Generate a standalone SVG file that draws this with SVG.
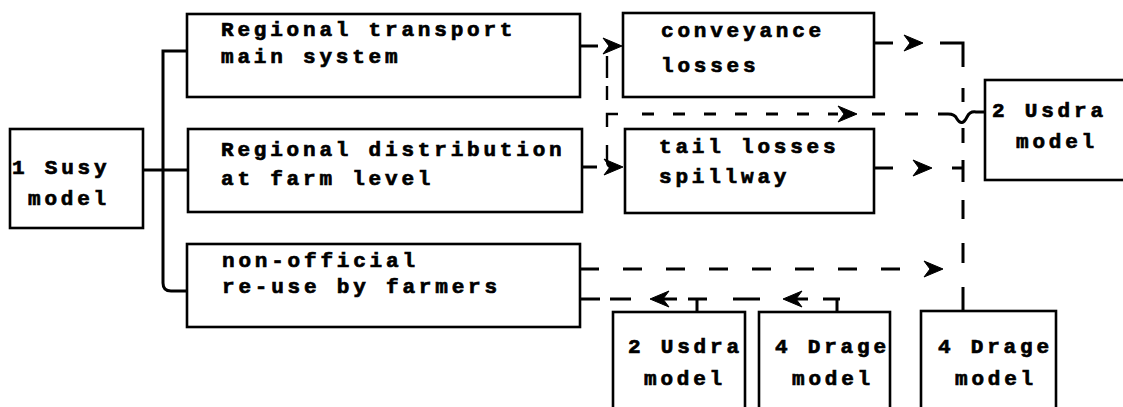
<svg xmlns="http://www.w3.org/2000/svg" width="1123" height="407" viewBox="0 0 1123 407">
  <style>
    .box { fill: #fff; stroke: #000; stroke-width: 2.6; }
    .wire { fill: none; stroke: #000; stroke-width: 3; stroke-linecap: butt; }
    .thin { stroke-width: 2.4; }
    .head { fill: #000; stroke: #000; stroke-width: 1; stroke-linejoin: round; }
    text { font-family: "Liberation Mono", "Courier New", monospace; font-weight: bold; font-size: 21px; letter-spacing: 3.8px; fill: #000; stroke: #000; stroke-width: 0.7px; }
  </style>
  <defs>
    <!-- chevron heads, tip at the origin -->
    <polygon id="headR" class="head" points="0,0 -19,-8 -13,0 -19,8"/>
    <polygon id="headL" class="head" points="0,0 19,-8 13,0 19,8"/>
  </defs>
  <rect width="1123" height="407" fill="#fff"/>

  <g id="connectors">
    <!-- bus from the Susy model to the three supply branches -->
    <path class="wire" d="M187,51 H163 V283 Q163,291 171,291 H187"/>
    <path class="wire" d="M143,170 H188"/>

    <!-- transport main system -> conveyance losses -->
    <path class="wire" d="M580,46 H598"/>
    <use href="#headR" x="622" y="46"/>
    <!-- distribution -> tail losses -->
    <path class="wire" d="M582,167 H597"/>
    <use href="#headR" x="623" y="167"/>

    <!-- dashed drop between the two loss branches -->
    <path class="wire thin" d="M607,56 V78 M607,86 V100 M607,127 V114 H618 M607,145 V160 Q607,167 611,167"/>
    <!-- dashed line towards the Usdra model with a hop over the riser -->
    <path class="wire" d="M642,114 H838" stroke-dasharray="12 19"/>
    <use href="#headR" x="857" y="114"/>
    <path class="wire" d="M872,114 H948" stroke-dasharray="13 20"/>
    <path class="wire" d="M948,114 Q955,114 957,119 Q962,127 967,117 Q970,111 976,112 H986"/>

    <!-- conveyance losses -> riser -->
    <path class="wire" d="M874,43 H893"/>
    <use href="#headR" x="923" y="43"/>
    <path class="wire" d="M940,43 H963 V67"/>
    <!-- tail losses -> riser -->
    <path class="wire" d="M874,168 H893"/>
    <use href="#headR" x="932" y="168"/>
    <path class="wire" d="M952,168 H963"/>
    <!-- riser down to the Drage model -->
    <path class="wire" d="M963,88 V102 M963,128 V143 M963,160 V182 M963,200 V219 M963,243 V263 M963,287 V311"/>

    <!-- non-official re-use -> riser -->
    <path class="wire" d="M580,269 H900" stroke-dasharray="19 24"/>
    <use href="#headR" x="943" y="269"/>

    <!-- return flows from the lower models -->
    <path class="wire" d="M580,299 H600 M610,299 H631"/>
    <path class="wire" d="M662,299 H677"/>
    <use href="#headL" x="650" y="299"/>
    <path class="wire" d="M688,299 H707 M697,299 V312"/>
    <path class="wire" d="M733,299 H760"/>
    <path class="wire" d="M795,299 H808"/>
    <use href="#headL" x="783" y="299"/>
    <path class="wire" d="M823,299 H840 M837,299 V312"/>
  </g>

  <g id="susy">
    <rect class="box" x="10" y="129" width="133" height="99"/>
    <text x="12" y="174">1 Susy</text>
    <text x="28" y="205">model</text>
  </g>

  <g id="transport">
    <rect class="box" x="187" y="14" width="393" height="83"/>
    <text x="221" y="36">Regional transport</text>
    <text x="221" y="63">main system</text>
  </g>

  <g id="distribution">
    <rect class="box" x="188" y="129" width="394" height="83"/>
    <text x="221" y="156">Regional distribution</text>
    <text x="221" y="185">at farm level</text>
  </g>

  <g id="reuse">
    <rect class="box" x="187" y="244" width="393" height="83"/>
    <text x="222" y="267">non-official</text>
    <text x="222" y="293">re-use by farmers</text>
  </g>

  <g id="conveyance">
    <rect class="box" x="623" y="13" width="251" height="84"/>
    <text x="661" y="37">conveyance</text>
    <text x="661" y="72">losses</text>
  </g>

  <g id="tail">
    <rect class="box" x="625" y="129" width="249" height="84"/>
    <text x="659" y="153">tail losses</text>
    <text x="659" y="183">spillway</text>
  </g>

  <g id="usdra-top">
    <rect class="box" x="985" y="80" width="160" height="100"/>
    <text x="992" y="117">2 Usdra</text>
    <text x="1016" y="148">model</text>
  </g>

  <g id="usdra-bottom">
    <rect class="box" x="613" y="312" width="132" height="110"/>
    <text x="628" y="353">2 Usdra</text>
    <text x="644" y="385">model</text>
  </g>

  <g id="drage-left">
    <rect class="box" x="759" y="312" width="131" height="110"/>
    <text x="775" y="353">4 Drage</text>
    <text x="792" y="385">model</text>
  </g>

  <g id="drage-right">
    <rect class="box" x="921" y="311" width="135" height="110"/>
    <text x="938" y="353">4 Drage</text>
    <text x="955" y="385">model</text>
  </g>
</svg>
